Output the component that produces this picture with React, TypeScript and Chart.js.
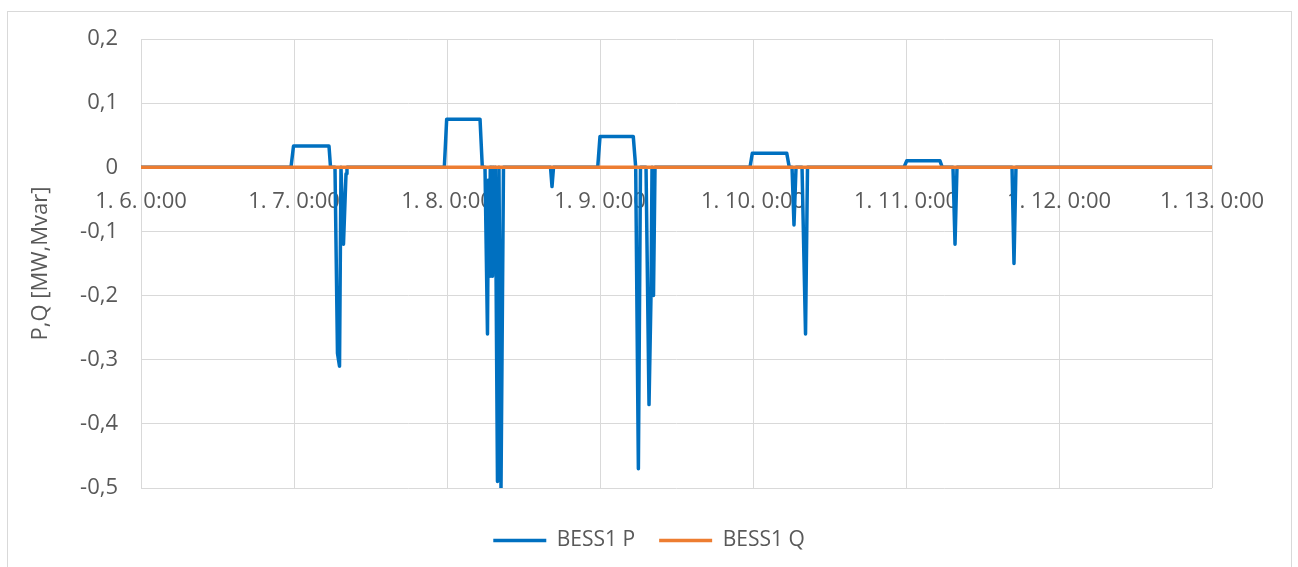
import React, { useEffect, useRef } from "react";
import { Chart, registerables } from "chart.js";

Chart.register(...registerables);

// Time in hours since 1.6. 0:00
const pTimes = [
  0, 23.53, 23.92, 29.49, 29.73, 30.43, 30.82, 31.14, 31.37, 31.76, 32.16, 32.31,
  47.58, 47.95, 53.18, 53.54, 53.96, 54.35, 54.51, 54.67, 54.79, 54.9, 55.03, 55.14, 55.29, 55.42, 55.58,
  55.92, 56.15, 56.47, 56.86,
  64.24, 64.47, 64.71,
  71.64, 72.0, 77.22, 77.6, 78.02, 78.35, 79.22, 79.69, 80.0, 80.16, 80.39, 80.63,
  95.53, 95.89, 101.29, 101.69, 102.12, 102.43, 102.75, 103.69, 104.24, 104.55,
  119.69, 120.11, 125.33, 125.69, 127.37, 127.69, 128.0, 136.63, 136.94, 137.25, 168,
];
const pValues = [
  0, 0, 0.033, 0.033, 0, 0, -0.29, -0.31, 0, -0.12, -0.01, 0,
  0, 0.075, 0.075, 0, 0, -0.26, -0.02, -0.17, 0, -0.17, 0, -0.17, 0, -0.15, 0,
  -0.49, 0, -0.5, 0,
  0, -0.03, 0,
  0, 0.048, 0.048, 0, -0.47, 0, 0, -0.37, -0.2, 0, -0.2, 0,
  0, 0.022, 0.022, 0, 0, -0.09, 0, 0, -0.26, 0,
  0, 0.01, 0.01, 0, 0, -0.12, 0, 0, -0.15, 0, 0,
];
const qTimes = [0, 168];
const qValues = [0, 0];

const xTickLabels = [
  "1. 6. 0:00", "1. 7. 0:00", "1. 8. 0:00", "1. 9. 0:00",
  "1. 10. 0:00", "1. 11. 0:00", "1. 12. 0:00", "1. 13. 0:00",
];
const seriesNames = ["BESS1 P", "BESS1 Q"];
const yTitle = "P,Q [MW,Mvar]";

const BLUE = "#0070C0";
const ORANGE = "#ED7D31";
const GRID = "#d9d9d9";
const TEXT = "#595959";
const FONT = "'Open Sans', 'Liberation Sans', sans-serif";
const FS = 22;

export default function App() {
  const ref = useRef<HTMLCanvasElement | null>(null);
  useEffect(() => {
    if (!ref.current) return;
    const chart = new Chart(ref.current, {
      type: "line",
      data: {
        datasets: [
          {
            label: seriesNames[0],
            data: pTimes.map((t, i) => ({ x: t, y: pValues[i] })),
            borderColor: BLUE,
            backgroundColor: BLUE,
            borderWidth: 3.5,
            pointRadius: 0,
            tension: 0,
            borderCapStyle: "round",
            borderJoinStyle: "round",
            order: 2,
          },
          {
            label: seriesNames[1],
            data: qTimes.map((t, i) => ({ x: t, y: qValues[i] })),
            borderColor: ORANGE,
            backgroundColor: ORANGE,
            borderWidth: 3.5,
            pointRadius: 0,
            tension: 0,
            borderCapStyle: "round",
            borderJoinStyle: "round",
            order: 1,
          },
        ],
      },
      options: {
        responsive: false,
        animation: false,
        devicePixelRatio: 1,
        layout: { padding: { left: 0, right: 0, top: 39, bottom: 6 } },
        plugins: {
          tooltip: { enabled: false },
          legend: {
            position: "bottom",
            title: { display: true, text: "", padding: { top: 0, bottom: 6 }, font: { size: 10 } },
            labels: {
              sort: (a: any, b: any) => a.datasetIndex - b.datasetIndex,
              usePointStyle: true,
              pointStyle: "line",
              pointStyleWidth: 53,
              boxHeight: 3,
              color: TEXT,
              padding: 24,
              font: { family: FONT, size: 21 },
            },
          },
        },
        scales: {
          x: {
            type: "linear",
            position: { y: 0 } as any,
            min: 0,
            max: 168,
            afterBuildTicks: (scale: any) => {
              scale.ticks = xTickLabels.map((_, i) => ({ value: i * 24 }));
            },
            ticks: {
              autoSkip: false,
              maxRotation: 0,
              padding: 21,
              color: TEXT,
              font: { family: FONT, size: FS },
              callback: (_v: any, i: number) => xTickLabels[i],
            },
            grid: { color: GRID, lineWidth: 1, drawTicks: false },
            border: { display: false },
          },
          y: {
            min: -0.5,
            max: 0.2,
            afterFit: (scale: any) => {
              scale.width = 141;
            },
            ticks: {
              stepSize: 0.1,
              padding: 23,
              color: TEXT,
              font: { family: FONT, size: FS },
              callback: (v: any) => {
                const n = Number(v);
                if (Math.abs(n) < 1e-9) return "0";
                return n.toFixed(1).replace(".", ",");
              },
            },
            grid: { color: GRID, lineWidth: 1, drawTicks: false },
            border: { display: false },
            title: {
              display: true,
              text: yTitle,
              color: TEXT,
              font: { family: FONT, size: FS },
              padding: { top: 28, bottom: 0 },
            },
          },
          spacer: {
            type: "linear",
            position: "right",
            afterFit: (scale: any) => {
              scale.width = 86;
            },
            ticks: { display: false },
            grid: { display: false, drawOnChartArea: false },
            border: { display: false },
          },
        },
      },
    });
    return () => chart.destroy();
  }, []);

  return (
    <div
      style={{
        position: "fixed",
        left: 0,
        top: 0,
        width: 1298,
        height: 567,
        background: "#fff",
        overflow: "hidden",
      }}
    >
      <div
        style={{
          position: "absolute",
          left: 7,
          top: 11,
          width: 1283,
          height: 600,
          border: "1px solid #d9d9d9",
        }}
      />
      <canvas
        ref={ref}
        width={1298}
        height={567}
        style={{ position: "absolute", left: 0, top: 0, width: 1298, height: 567 }}
      />
    </div>
  );
}
